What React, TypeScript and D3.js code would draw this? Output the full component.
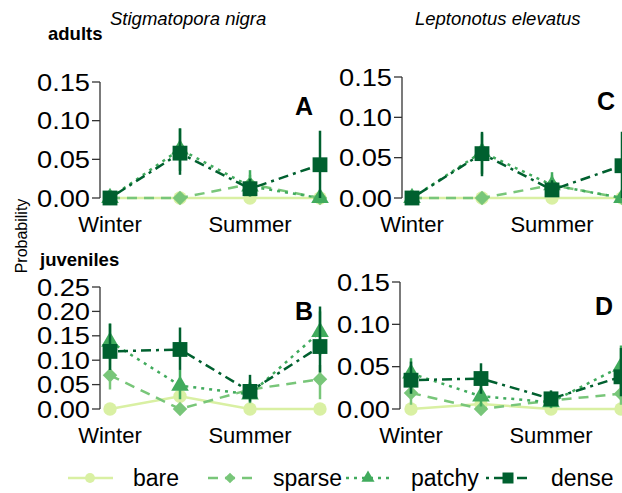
import React from "react";
import * as d3 from "d3";

// sampling times; only two are labelled on the axis
const seasons = ["Winter", "Spring", "Summer", "Autumn"];
const seasonLabels = ["Winter", "", "Summer", ""];
const habitats = ["bare", "sparse", "patchy", "dense"];
const colors = ["#d9f0a3", "#78c679", "#41ab5d", "#00602f"];
const dashes = ["none", "10,7", "3,5", "3,5,10,5"];

// rows: bare, sparse, patchy, dense ; columns: seasons
const aMean = [[0, 0, 0, 0], [0, 0, 0.018, 0], [0, 0.063, 0.015, 0], [0, 0.058, 0.012, 0.043]];
const aLow = [[0, 0, 0, 0], [0, 0, 0.006, 0], [0, 0.035, 0.003, 0], [0, 0.03, 0.002, 0]];
const aHigh = [[0, 0, 0, 0], [0, 0, 0.03, 0], [0, 0.09, 0.036, 0], [0, 0.09, 0.025, 0.087]];

const bMean = [[0, 0.026, 0, 0], [0.069, 0, 0.04, 0.061], [0.138, 0.048, 0.03, 0.158], [0.118, 0.122, 0.036, 0.128]];
const bLow = [[0, 0.01, 0, 0], [0.04, 0, 0.02, 0.02], [0.1, 0.02, 0.012, 0.11], [0.08, 0.08, 0.015, 0.075]];
const bHigh = [[0, 0.04, 0, 0], [0.1, 0, 0.06, 0.09], [0.175, 0.08, 0.055, 0.2], [0.175, 0.167, 0.07, 0.21]];

const cMean = [[0, 0, 0, 0], [0, 0, 0.016, 0], [0, 0.057, 0.016, 0], [0, 0.055, 0.01, 0.04]];
const cLow = [[0, 0, 0, 0], [0, 0, 0.005, 0], [0, 0.03, 0.004, 0], [0, 0.027, 0.002, 0]];
const cHigh = [[0, 0, 0, 0], [0, 0, 0.028, 0], [0, 0.08, 0.032, 0], [0, 0.082, 0.022, 0.082]];

const dMean = [[0, 0.006, 0, 0], [0.019, 0, 0.01, 0.018], [0.042, 0.015, 0.008, 0.05], [0.034, 0.036, 0.012, 0.038]];
const dLow = [[0, 0, 0, 0], [0.005, 0, 0.002, 0.005], [0.02, 0.003, 0.001, 0.025], [0.018, 0.018, 0.003, 0.015]];
const dHigh = [[0, 0.012, 0, 0], [0.035, 0, 0.02, 0.035], [0.06, 0.03, 0.02, 0.075], [0.056, 0.054, 0.022, 0.072]];

const font = "'Liberation Sans', Arial, sans-serif";

const symbolPath = (i: number, big: boolean) => {
  const k = big ? 1 : 0.55;
  if (i === 0) return d3.symbol(d3.symbolCircle, 140 * k)();
  if (i === 1) return d3.symbol(d3.symbolSquare, 105 * k)();
  if (i === 2) return d3.symbol(d3.symbolTriangle, 135 * k)();
  return d3.symbol(d3.symbolSquare, 220 * k)();
};

const Marker = ({ i, x, y, big = true }) => (
  <path
    d={symbolPath(i, big)}
    transform={`translate(${x},${y})${i === 1 ? " rotate(45)" : ""}`}
    fill={colors[i]}
  />
);

const Panel = ({ axisX, x0, y0, yTop, max, letter, mean, low, high }) => {
  const x = d3.scalePoint().domain(seasons).range([x0, x0 + 210]);
  const y = d3.scaleLinear().domain([0, max]).range([y0, yTop]);
  const ticks = d3.range(0, max + 0.0001, 0.05);
  const line = d3
    .line<number>()
    .x((_, j) => x(seasons[j]))
    .y((v) => y(v));

  return (
    <g>
      <line x1={axisX} x2={axisX} y1={yTop} y2={y0} stroke="#333" strokeWidth={1.3} />
      {ticks.map((t) => (
        <g key={t}>
          <line x1={axisX - 8} x2={axisX} y1={y(t)} y2={y(t)} stroke="#333" strokeWidth={1.3} />
          <text
            x={axisX - 63}
            y={y(t)}
            dy="0.36em"
            fontSize={24}
            textLength={53}
            lengthAdjust="spacingAndGlyphs"
          >
            {t.toFixed(2)}
          </text>
        </g>
      ))}
      {seasonLabels.map((s, j) =>
        s ? (
          <text key={j} x={x(seasons[j])} y={y0 + 34} textAnchor="middle" fontSize={22}>
            {s}
          </text>
        ) : null
      )}
      <text x={axisX + 204} y={yTop + 33} textAnchor="middle" fontSize={25} fontWeight="bold">
        {letter}
      </text>
      {habitats.map((h, i) => (
        <g key={h}>
          <path
            d={line(mean[i])}
            fill="none"
            stroke={colors[i]}
            strokeWidth={2.5}
            strokeDasharray={dashes[i]}
          />
          {mean[i].map((v, j) => (
            <line
              key={j}
              x1={x(seasons[j])}
              x2={x(seasons[j])}
              y1={y(low[i][j])}
              y2={y(high[i][j])}
              stroke={colors[i]}
              strokeWidth={2.5}
            />
          ))}
          {mean[i].map((v, j) => (
            <Marker key={j} i={i} x={x(seasons[j])} y={y(v)} />
          ))}
        </g>
      ))}
    </g>
  );
};

const legendX = [68, 208, 346, 486];

export default function App() {
  return (
    <svg
      width={622}
      height={493}
      style={{ position: "absolute", left: 0, top: 0, background: "#fff" }}
      fontFamily={font}
    >
      <text x={110} y={25} fontSize={18.5} fontStyle="italic">Stigmatopora nigra</text>
      <text x={415} y={25} fontSize={18.5} fontStyle="italic">Leptonotus elevatus</text>
      <text x={48} y={40} fontSize={18.5} fontWeight="bold">adults</text>
      <text x={40} y={266} fontSize={18.5} fontWeight="bold">juveniles</text>
      <text transform="translate(27,236) rotate(-90)" textAnchor="middle" fontSize={16}>
        Probability
      </text>

      <Panel axisX={100} x0={110} y0={198} yTop={82} max={0.15} letter="A" mean={aMean} low={aLow} high={aHigh} />
      <Panel axisX={402} x0={412} y0={198} yTop={77} max={0.15} letter="C" mean={cMean} low={cLow} high={cHigh} />
      <Panel axisX={100} x0={110} y0={409} yTop={287} max={0.25} letter="B" mean={bMean} low={bLow} high={bHigh} />
      <Panel axisX={400} x0={411} y0={409} yTop={282} max={0.15} letter="D" mean={dMean} low={dLow} high={dHigh} />

      {habitats.map((h, i) => (
        <g key={h}>
          <line
            x1={legendX[i]}
            x2={legendX[i] + 45}
            y1={478}
            y2={478}
            stroke={colors[i]}
            strokeWidth={2.5}
            strokeDasharray={dashes[i]}
          />
          <Marker i={i} x={legendX[i] + 22} y={478} big={false} />
          <text x={legendX[i] + 65} y={478} dy="0.36em" fontSize={23}>
            {h}
          </text>
        </g>
      ))}
    </svg>
  );
}
